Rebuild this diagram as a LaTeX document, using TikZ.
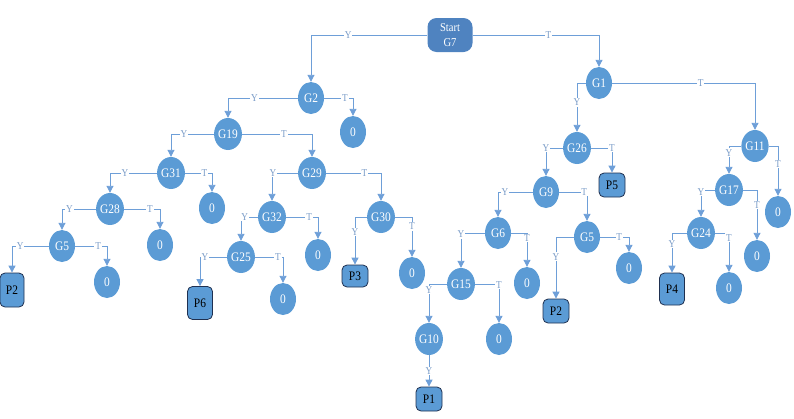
\documentclass[tikz,border=0pt]{standalone}
\usepackage{fontspec}
\setmainfont[FakeStretch=0.88]{Liberation Serif}
\usetikzlibrary{shapes.geometric,arrows.meta}
\definecolor{nodeblue}{HTML}{5B9BD5}
\definecolor{startblue}{HTML}{4F83C0}
\definecolor{pdark}{HTML}{1F3050}
\definecolor{lineblue}{HTML}{6E9FD8}
\definecolor{lblcol}{HTML}{7A9CC8}
\tikzset{
  gnode/.style={ellipse,fill=nodeblue,text=white,minimum width=26pt,minimum height=32pt,inner sep=0pt,font=\fontsize{13}{14}\selectfont},
  pnode/.style={rectangle,rounded corners=5pt,fill=nodeblue,draw=pdark,line width=0.8pt,text=black,inner sep=0pt,minimum width=25pt,font=\fontsize{13}{14}\selectfont},
  startnode/.style={rectangle,rounded corners=9pt,fill=startblue,text=white,minimum width=45pt,minimum height=34pt,inner sep=0pt,align=center,font=\fontsize{12}{15}\selectfont},
  conn/.style={draw=lineblue,line width=0.9pt,-{Triangle[length=7pt,width=7pt]}},
  lbl/.style={font=\fontsize{10.5}{11}\selectfont,text=lblcol,fill=white,inner sep=0.8pt}
}
\begin{document}
\begin{tikzpicture}[x=1pt,y=-1pt]
\useasboundingbox (0,0) rectangle (794,418);
% nodes
\node[startnode] (S) at (450,35) {Start\\G7};
\node[gnode] (G2) at (311,98) {G2};
\node[gnode] (Z2) at (353,132) {0};
\node[gnode] (G1) at (599,83) {G1};
\node[gnode] (G19) at (228,134) {G19};
\node[gnode] (G31) at (171,173) {G31};
\node[gnode] (Z31) at (212,208) {0};
\node[gnode] (G28) at (110,209) {G28};
\node[gnode] (G29) at (312,173) {G29};
\node[gnode] (G30) at (381,217) {G30};
\node[gnode] (G32) at (272,217) {G32};
\node[gnode] (G5a) at (62,246) {G5};
\node[gnode] (Z28) at (160,245) {0};
\node[pnode,minimum width=24pt,minimum height=34pt] (P2a) at (12,290) {P2};
\node[gnode] (Z5a) at (107,282) {0};
\node[gnode] (G25) at (241,257) {G25};
\node[gnode] (Z32) at (318,255) {0};
\node[pnode,minimum width=26pt,minimum height=22pt] (P3) at (355,276) {P3};
\node[pnode,minimum width=25pt,minimum height=33pt] (P6) at (200,303) {P6};
\node[gnode] (Z25) at (283,299) {0};
\node[gnode] (Z30) at (412,273) {0};
\node[gnode] (G26) at (577,148) {G26};
\node[pnode,minimum width=26pt,minimum height=24pt] (P5) at (612,185) {P5};
\node[gnode] (G9) at (546,192) {G9};
\node[gnode] (G6) at (498,233) {G6};
\node[gnode] (G5b) at (587,237) {G5};
\node[gnode] (Z5b) at (629,268) {0};
\node[gnode] (G11) at (755,146) {G11};
\node[gnode] (G17) at (729,190) {G17};
\node[gnode] (Z11) at (778,212) {0};
\node[gnode] (G24) at (701,233) {G24};
\node[gnode] (Z17) at (757,256) {0};
\node[pnode,minimum width=25pt,minimum height=32pt] (P4) at (672,289) {P4};
\node[gnode] (Z24) at (729,288) {0};
\node[gnode] (Z6) at (527,283) {0};
\node[gnode] (G15) at (461,284) {G15};
\node[pnode,minimum width=26pt,minimum height=24pt] (P2b) at (556,311) {P2};
\node[gnode] (G10) at (429,339) {G10};
\node[gnode] (Z15) at (499,339) {0};
\node[pnode,minimum width=26pt,minimum height=24pt] (P1) at (429,399) {P1};
% connectors
\draw[conn] (S.west) -| node[lbl,pos=0.34]{Y} (G2.north);
\draw[conn] (S.east) -| node[lbl,pos=0.30]{T} (G1.north);
\draw[conn] (G2.west) -| node[lbl,pos=0.31]{Y} (G19.north);
\draw[conn] (G2.east) -| node[lbl,pos=0.36]{T} (Z2.north);
\draw[conn] (G19.west) -| node[lbl,pos=0.35]{Y} (G31.north);
\draw[conn] (G19.east) -| node[lbl,pos=0.30]{T} (G29.north);
\draw[conn] (G31.west) -| node[lbl,pos=0.34]{Y} (G28.north);
\draw[conn] (G31.east) -| node[lbl,pos=0.36]{T} (Z31.north);
\draw[conn] (G28.west) -| node[lbl,pos=0.39]{Y} (G5a.north);
\draw[conn] (G28.east) -| node[lbl,pos=0.36]{T} (Z28.north);
\draw[conn] (G5a.west) -| node[lbl,pos=0.39]{Y} (P2a.north);
\draw[conn] (G5a.east) -| node[lbl,pos=0.36]{T} (Z5a.north);
\draw[conn] (G29.west) -| node[lbl,pos=0.48]{Y} (G32.north);
\draw[conn] (G29.east) -| node[lbl,pos=0.35]{T} (G30.north);
\draw[conn] (G32.west) -| node[lbl,pos=0.39]{Y} (G25.north);
\draw[conn] (G32.east) -| node[lbl,pos=0.36]{T} (Z32.north);
\draw[conn] (G25.west) -| node[lbl,pos=0.41]{Y} (P6.north);
\draw[conn] (G25.east) -| node[lbl,pos=0.41]{T} (Z25.north);
\draw[conn] (G30.west) -| node[lbl,pos=0.66]{Y} (P3.north);
\draw[conn] (G30.east) -| node[lbl,pos=0.62]{T} (Z30.north);
\draw[conn] (G1.west) -| node[lbl,pos=0.70]{Y} (G26.north);
\draw[conn] (G1.east) -| node[lbl,pos=0.31]{T} (G11.north);
\draw[conn] (G26.west) -| node[lbl,pos=0.5]{Y} (G9.north);
\draw[conn] (G26.east) -| node[lbl,pos=0.5]{T} (P5.north);
\draw[conn] (G9.west) -| node[lbl,pos=0.40]{Y} (G6.north);
\draw[conn] (G9.east) -| node[lbl,pos=0.45]{T} (G5b.north);
\draw[conn] (G6.west) -| node[lbl,pos=0.52]{Y} (G15.north);
\draw[conn] (G6.east) -| node[lbl,pos=0.57]{T} (Z6.north);
\draw[conn] (G5b.west) -| node[lbl,pos=0.66]{Y} (P2b.north);
\draw[conn] (G5b.east) -| node[lbl,pos=0.33]{T} (Z5b.north);
\draw[conn] (G15.west) -| node[lbl,pos=0.58]{Y} (G10.north);
\draw[conn] (G15.east) -| node[lbl,pos=0.51]{T} (Z15.north);
\draw[conn] (G10.south) -- node[lbl,pos=0.5]{Y} (P1.north);
\draw[conn] (G11.west) -| node[lbl,pos=0.62]{Y} (G17.north);
\draw[conn] (G11.east) -| node[lbl,pos=0.68]{T} (Z11.north);
\draw[conn] (G17.west) -| node[lbl,pos=0.54]{Y} (G24.north);
\draw[conn] (G17.east) -| node[lbl,pos=0.65]{T} (Z17.north);
\draw[conn] (G24.west) -| node[lbl,pos=0.64]{Y} (P4.north);
\draw[conn] (G24.east) -| node[lbl,pos=0.56]{T} (Z24.north);
\end{tikzpicture}
\end{document}
